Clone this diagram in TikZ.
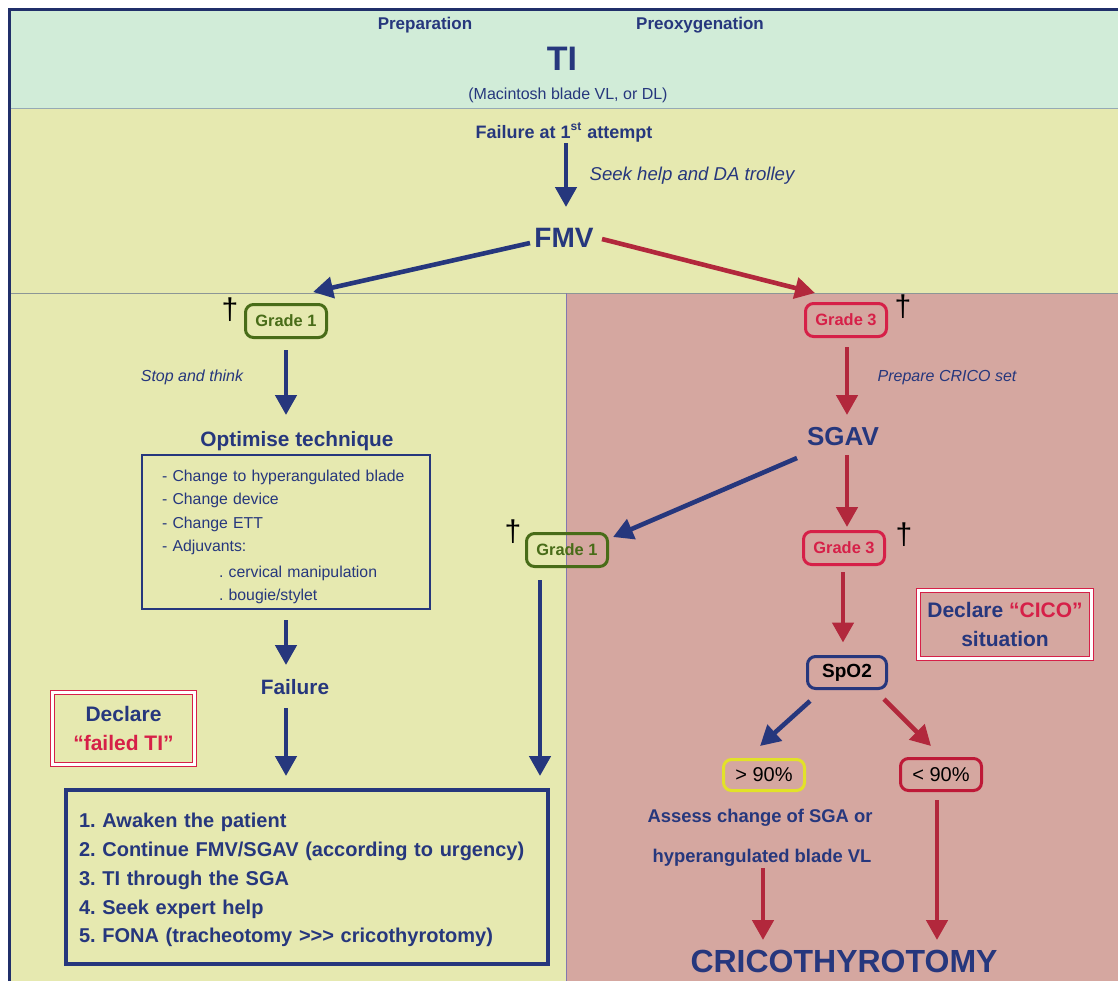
\documentclass[tikz,border=0pt]{standalone}
\usepackage{fontspec}
\setmainfont{Liberation Sans}
\usetikzlibrary{arrows.meta,calc}
\frenchspacing

\definecolor{navy}{RGB}{38,55,125}
\definecolor{arrred}{RGB}{178,40,60}
\definecolor{crim}{RGB}{214,32,72}
\definecolor{grn}{RGB}{72,108,24}
\definecolor{bandgreen}{RGB}{209,236,216}
\definecolor{bandyellow}{RGB}{230,233,176}
\definecolor{bandpink}{RGB}{213,167,160}
\definecolor{ylw}{RGB}{226,226,40}
\definecolor{dkred}{RGB}{190,25,55}

\tikzset{
  txt/.style={inner sep=0pt, anchor=base, text=navy},
  barrow/.style={draw=navy, line width=2.3pt, -{Triangle[length=10pt,width=10.5pt]}},
  rarrow/.style={draw=arrred, line width=2.3pt, -{Triangle[length=10pt,width=10.5pt]}},
  pill/.style={draw, rounded corners=4pt, line width=1.5pt, minimum width=40.5pt,
    minimum height=16.5pt, inner sep=0pt, font=\bfseries\fontsize{8.2}{9}\selectfont},
  declarebox/.style={draw=crim, line width=0.6pt, double=white, double distance=1.2pt,
    align=center, inner sep=0pt, font=\bfseries\fontsize{10.5}{14.5}\selectfont},
  daggermark/.style={inner sep=0pt, font=\fontsize{15}{15}\selectfont},
  sepline/.style={line width=0.5pt}
}

\begin{document}
\begin{tikzpicture}[x=0.5pt,y=-0.5pt]
\useasboundingbox (0,0) rectangle (1118,981);

% colour bands
\fill[white] (0,0) rectangle (1118,981);
\fill[bandgreen] (9,9) rectangle (1118,108);
\fill[bandyellow] (9,108) rectangle (1118,293);
\fill[bandyellow] (9,293) rectangle (566,981);
\fill[bandpink] (566,293) rectangle (1118,981);
\draw[sepline, draw={rgb,255:red,150;green,170;blue,180}] (9,108) -- (1118,108);
\draw[sepline, draw={rgb,255:red,140;green,150;blue,150}] (9,293) -- (1118,293);
\draw[sepline, draw={rgb,255:red,130;green,120;blue,175}] (566,293) -- (566,981);
\draw[navy!85!black, line width=1.5pt] (9.5,981) -- (9.5,9.5) -- (1118,9.5);

% header
\node[txt, font=\bfseries\fontsize{8.5}{10}\selectfont] (prep) at (425,29) {Preparation};
\node[txt, font=\bfseries\fontsize{8.5}{10}\selectfont] (preox) at (700,29) {Preoxygenation};
\node[txt, font=\bfseries\fontsize{17}{20}\selectfont] (ti) at (562,70) {TI};
\node[txt, font=\fontsize{8}{10}\selectfont] (mac) at (568,99) {(Macintosh blade VL, or DL)};

% first attempt
\node[txt, font=\bfseries\fontsize{9}{11}\selectfont] (fail1) at (564,138) {Failure at 1\textsuperscript{st} attempt};
\node[txt, font=\itshape\fontsize{9.3}{11}\selectfont] (seek) at (692,180) {Seek help and DA trolley};
\node[txt, font=\bfseries\fontsize{14}{16}\selectfont] (fmv) at (564,247) {FMV};

% grades after FMV
\node[pill, draw=grn, text=grn] (g1a) at (286,321) {Grade 1};
\node[pill, draw=crim, text=crim] (g3a) at (846,320) {Grade 3};
\node[daggermark] (dag1) at (230,310) {\dag};
\node[daggermark] (dag2) at (903,307) {\dag};

\node[txt, font=\itshape\fontsize{8}{10}\selectfont] (stop) at (192,381) {Stop and think};
\node[txt, font=\itshape\fontsize{8}{10}\selectfont] (cricoset) at (947,381) {Prepare CRICO set};

% left branch
\node[txt, font=\bfseries\fontsize{10.4}{12}\selectfont] (opt) at (297,446) {Optimise technique};
\node[draw=navy, line width=1pt, minimum width=144pt, minimum height=77pt, text width=128pt,
  inner xsep=8pt, inner ysep=0pt, align=left, text=navy,
  font=\fontsize{7.9}{11.6}\selectfont] (optbox) at (286,532)
  {\rule{0pt}{10.8pt}\hspace*{2pt}- Change to hyperangulated blade\\
   \hspace*{2pt}- Change device\\
   \hspace*{2pt}- Change ETT\\
   \hspace*{2pt}- Adjuvants:\\[1.5pt]
   \hspace*{30.5pt}. cervical manipulation\\
   \hspace*{30.5pt}. bougie/stylet};
\node[txt, font=\bfseries\fontsize{10.4}{12}\selectfont] (failure) at (295,694) {Failure};
\node[declarebox, minimum width=71pt, minimum height=36pt] (dfail) at (123.5,728.5)
  {\textcolor{navy}{Declare}\\ \textcolor{crim}{“failed TI”}};

\node[draw=navy, line width=2pt, minimum width=241pt, minimum height=87pt, text width=228pt,
  inner xsep=6.5pt, inner ysep=0pt, align=left, text=navy,
  font=\bfseries\fontsize{10}{14.4}\selectfont] (plan) at (307,877)
  {\rule{0pt}{10.3pt}1. Awaken the patient\\
   2. Continue FMV/SGAV (according to urgency)\\
   3. TI through the SGA\\
   4. Seek expert help\\
   5. FONA (tracheotomy >\kern0pt>\kern0pt> cricothyrotomy)};

% right branch
\node[txt, font=\bfseries\fontsize{13}{15}\selectfont] (sgav) at (843,445) {SGAV};
\node[pill, draw=grn, text=grn] (g1b) at (567,550) {Grade 1};
\node[pill, draw=crim, text=crim] (g3b) at (844,548) {Grade 3};
\node[daggermark] (dag3) at (513,532) {\dag};
\node[daggermark] (dag4) at (904,535) {\dag};

\node[declarebox, minimum width=86.5pt, minimum height=34pt] (dcico) at (1005,624.5)
  {\textcolor{navy}{Declare} \textcolor{crim}{“CICO”}\\ \textcolor{navy}{situation}};

\node[pill, draw=navy, text=black, minimum width=39.5pt, minimum height=16pt,
  font=\bfseries\fontsize{9.5}{11}\selectfont] (spo) at (847,672.5) {SpO2};
\node[pill, draw=ylw, text=black, minimum height=15.5pt,
  font=\fontsize{10}{11}\selectfont] (hi) at (764,775) {> 90\%};
\node[pill, draw=dkred, text=black, minimum height=16pt,
  font=\fontsize{10}{11}\selectfont] (lo) at (941,774.5) {< 90\%};

\node[txt, font=\bfseries\fontsize{9.2}{11}\selectfont] (assess1) at (760,822) {Assess change of SGA or};
\node[txt, font=\bfseries\fontsize{9.2}{11}\selectfont] (assess2) at (762,862) {hyperangulated blade VL};
\node[txt, font=\bfseries\fontsize{16}{18}\selectfont] (crico) at (844,972) {CRICOTHYROTOMY};

% connectors
\draw[barrow] ($(fail1.base)+(2,5)$) -- ($(fmv.base)+(2,-40)$);
\draw[barrow] ($(fmv.base)+(-34,-4)$) -- ($(g1a.center)+(27,-29)$);
\draw[rarrow] ($(fmv.base)+(38,-8)$) -- ($(g3a.center)+(-31,-27)$);
\draw[barrow] ($(g1a.center)+(0,29)$) -- ($(opt.base)+(-11,-31)$);
\draw[rarrow] ($(g3a.center)+(1,27)$) -- ($(sgav.base)+(4,-30)$);
\draw[barrow] ($(sgav.base)+(-46,13)$) -- ($(g1b.center)+(46,-13)$);
\draw[rarrow] ($(sgav.base)+(4,10)$) -- ($(g3b.center)+(3,-21)$);
\draw[barrow] ($(optbox.south)+(0,10)$) -- ($(failure.base)+(-9,-29)$);
\draw[barrow] ($(g1b.center)+(-27,30)$) -- ($(plan.north east)+(-10,-12)$);
\draw[barrow] ($(failure.base)+(-9,14)$) -- ($(plan.north)+(-21,-12)$);
\draw[rarrow] ($(g3b.center)+(-1,24)$) -- ($(spo.center)+(-4,-30)$);
\draw[barrow] ($(spo.center)+(-37,28.5)$) -- ($(hi.center)+(-4,-29)$);
\draw[rarrow] ($(spo.center)+(37,26.5)$) -- ($(lo.center)+(-10,-28.5)$);
\draw[rarrow] ($(assess2.base)+(1,6)$) -- ($(crico.base)+(-81,-32)$);
\draw[rarrow] ($(lo.center)+(-4,25.5)$) -- ($(crico.base)+(93,-32)$);
\end{tikzpicture}
\end{document}
